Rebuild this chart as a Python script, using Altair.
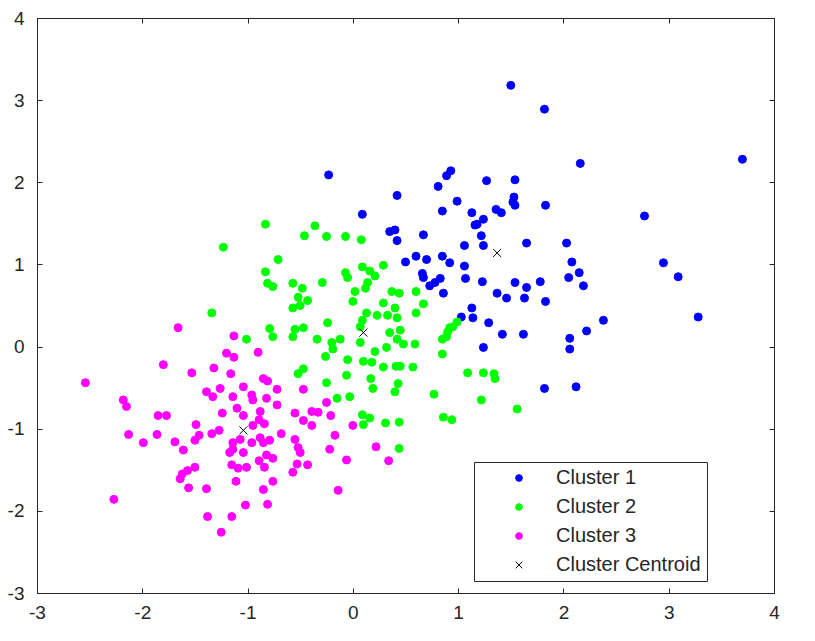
import altair as alt
import pandas as pd

# ---- data ----
c1_x = [1.50, 1.82, 2.16, 3.70, 0.93, 0.89, -0.23, 0.42, 0.09, 0.81,
        0.85, 0.99, 1.27, 1.54, 1.53, 1.52, 1.54, 1.36, 1.41, 1.13,
        1.18, 1.24, 1.16, 0.35, 0.40, 0.42, 0.67, 1.22, 1.24, 1.06,
        1.65, 0.50, 0.60, 0.70, 0.85, 0.92, 1.06, 0.66, 0.67, 0.73,
        0.78, 0.83, 0.86, 1.07, 1.23, 1.54, 1.65, 1.37, 1.46, 1.63,
        1.13, 1.14, 1.03, 1.29, 1.42, 1.62, 1.24, 1.83, 2.77, 2.03,
        2.08, 2.95, 2.15, 2.05, 2.19, 3.09, 3.28, 1.78, 1.83, 2.38,
        2.22, 2.06, 2.06, 1.82, 2.12]
c1_y = [3.18, 2.89, 2.23, 2.28, 2.14, 2.08, 2.09, 1.84, 1.61, 1.95,
        1.65, 1.77, 2.02, 2.03, 1.82, 1.76, 1.72, 1.67, 1.63, 1.63,
        1.49, 1.55, 1.48, 1.40, 1.42, 1.29, 1.36, 1.35, 1.23, 1.23,
        1.26, 1.03, 1.10, 1.06, 1.10, 1.02, 0.98, 0.89, 0.84, 0.74,
        0.78, 0.83, 0.65, 0.83, 0.79, 0.78, 0.72, 0.65, 0.59, 0.59,
        0.47, 0.35, 0.36, 0.29, 0.15, 0.15, -0.01, 1.72, 1.59, 1.26,
        1.03, 1.02, 0.90, 0.84, 0.74, 0.85, 0.36, 0.79, 0.55, 0.32,
        0.19, 0.10, -0.03, -0.51, -0.49]

c2_x = [-0.83, -1.23, -0.71, -0.83, -0.81, -0.76, -1.34, -0.79, -0.76, -1.01,
        -0.57,
        -0.36, -0.46, -0.25, -0.07, 0.08, 0.29, 0.09, 0.16, 0.21, -0.07,
        -0.05, -0.29, 0.14, 0.12, 0.02, 0.37, 0.44, 0.60, -0.57, -0.48,
        -0.52, -0.43, -0.57, -0.50, 0.00, 0.29, 0.40, 0.67, 0.60, 0.33,
        0.42, 0.23, 0.13, 0.09, 0.07, -0.24, -0.47, -0.55, 0.45, 0.35,
        0.90, 0.95, 0.99, 0.92,
        -0.34, -0.20, -0.12, -0.19, -0.26, 0.07, 0.21, 0.32, -0.05, 0.10,
        0.18, 0.29, 0.41, 0.45, 0.57, 0.42, 0.48, 0.59, 0.85, 0.89,
        0.85, -0.47, -0.52, -0.06, -0.25, 0.17, 0.19, 0.43, 0.40, -0.15,
        -0.03, 0.77, 1.09, 1.24, 1.34, 1.35, 1.22, 1.56, 0.09, 0.16,
        0.10, 0.31, 0.44, 0.86, 0.94, 0.44]
c2_y = [1.49, 1.21, 1.06, 0.91, 0.77, 0.73, 0.41, 0.22, 0.12, 0.09,
        0.12,
        1.47, 1.35, 1.34, 1.34, 1.30, 0.99, 0.97, 0.92, 0.86, 0.90,
        0.84, 0.78, 0.78, 0.71, 0.67, 0.67, 0.65, 0.67, 0.77, 0.71,
        0.60, 0.56, 0.47, 0.50, 0.55, 0.53, 0.47, 0.52, 0.41, 0.38,
        0.35, 0.38, 0.41, 0.32, 0.24, 0.29, 0.23, 0.21, 0.20, 0.17,
        0.18, 0.24, 0.30, 0.23,
        0.09, 0.05, 0.09, -0.03, -0.12, 0.05, -0.06, -0.01, -0.16, -0.18,
        -0.19, -0.25, -0.24, -0.24, -0.25, 0.09, 0.03, 0.03, 0.09, 0.12,
        -0.09, -0.27, -0.33, -0.35, -0.44, -0.39, -0.51, -0.45, -0.55, -0.63,
        -0.61, -0.58, -0.32, -0.32, -0.33, -0.39, -0.65, -0.76, -0.83, -0.87,
        -0.95, -0.93, -0.92, -0.86, -0.89, -1.24]

c3_x = [-1.66, -1.13, -1.20, -1.13, -0.90, -1.80, -1.53, -1.32, -1.16, -0.85,
        -0.81,
        -2.54, -2.18, -2.15, -1.85, -1.77, -2.13, -1.99, -1.86, -1.69, -1.61,
        -1.49, -1.46, -1.50, -1.34, -1.27, -1.24, -1.39, -1.33, -1.26, -1.04,
        -1.14, -0.96, -0.95, -0.72, -0.82, -0.72, -1.10, -1.04, -0.88, -0.89,
        -0.84, -0.95, -0.68, -1.14, -1.07, -0.96, -0.88, -0.79, -0.85, -1.17,
        -1.04, -1.14, -0.82, -0.76, -0.89, -0.84, -1.15, -1.09, -1.01, -1.50,
        -1.57, -1.62, -1.64, -1.56, -1.39, -1.11, -0.76, -0.85, -2.27, -1.02,
        -0.81, -1.38, -1.15, -1.25,
        -0.47, -0.25, -0.55, -0.47, -0.39, -0.33, -0.39, -0.21, 0.00, -0.55,
        -0.52, -0.50, -0.22, -0.17, 0.22, -0.06, 0.34, -0.43, -0.53, -0.57,
        -0.14]
c3_y = [0.23, 0.13, -0.08, -0.13, -0.07, -0.22, -0.32, -0.26, -0.33, -0.39,
        -0.42,
        -0.44, -0.65, -0.73, -0.84, -0.84, -1.07, -1.17, -1.07, -1.16, -1.26,
        -0.95, -1.08, -1.14, -1.06, -1.02, -0.81, -0.55, -0.61, -0.51, -0.49,
        -0.61, -0.59, -0.65, -0.52, -0.63, -0.71, -0.75, -0.84, -0.79, -0.89,
        -0.94, -0.96, -1.06, -1.17, -1.13, -1.17, -1.11, -1.14, -1.17, -1.29,
        -1.29, -1.25, -1.32, -1.36, -1.39, -1.47, -1.44, -1.48, -1.47, -1.47,
        -1.51, -1.55, -1.61, -1.72, -1.73, -1.64, -1.64, -1.74, -1.86, -1.93,
        -1.92, -2.07, -2.07, -2.26,
        -0.52, -0.68, -0.81, -0.90, -0.79, -0.80, -0.96, -0.84, -0.96, -1.13,
        -1.23, -1.29, -1.25, -1.08, -1.22, -1.38, -1.39, -1.44, -1.43, -1.53,
        -1.75]

cent_x = [1.37, 0.10, -1.04]
cent_y = [1.14, 0.17, -1.02]

labels = ["Cluster 1", "Cluster 2", "Cluster 3", "Cluster Centroid"]
stroke_colors = ["#0000ff", "#00ff00", "#ff00ff", "#000000"]
fill_colors = ["#0000ff", "#00ff00", "#ff00ff", "transparent"]
shapes = ["circle", "circle", "circle", "M-1,-1L1,1M-1,1L1,-1"]
tick_values = [-3, -2, -1, 0, 1, 2, 3, 4]

# ---- build table ----
rows = []
for lab, xs, ys in [(labels[0], c1_x, c1_y), (labels[1], c2_x, c2_y),
                    (labels[2], c3_x, c3_y), (labels[3], cent_x, cent_y)]:
    assert len(xs) == len(ys)
    for a, b in zip(xs, ys):
        rows.append({"x": a, "y": b, "group": lab})
df = pd.DataFrame(rows)
cent_df = pd.DataFrame({"x": cent_x, "y": cent_y})

TOP = 10
W, H = 737, 593 - 8 - TOP
FONT = "Liberation Sans"
TXT = "#262626"
FS = 19

xscale = alt.Scale(domain=[-3, 4], nice=False, zero=False)
yscale = alt.Scale(domain=[-3, 4], nice=False, zero=False)

common_axis = dict(values=tick_values, grid=False, domain=False, ticks=True,
                   tickSize=5, tickColor=TXT, tickWidth=1,
                   labelFont=FONT, labelFontSize=FS, labelColor=TXT,
                   labelFlush=False, labelOverlap=False,
                   labelExpr="toString(datum.value)")

points = alt.Chart(df).mark_point(filled=False, size=64, strokeWidth=1, opacity=1).encode(
    x=alt.X("x:Q", scale=xscale, title=None,
            axis=alt.Axis(orient="top", offset=-H, labels=True,
                          labelBaseline="top", labelPadding=-15, **common_axis)),
    y=alt.Y("y:Q", scale=yscale, title=None,
            axis=alt.Axis(orient="right", offset=-W, labels=True,
                          labelAlign="right", labelPadding=-18, **common_axis)),
    color=alt.Color("group:N", scale=alt.Scale(domain=labels, range=stroke_colors),
                    legend=alt.Legend(title=None, orient="none",
                                      legendX=474 - 37, legendY=462 - 8 - TOP,
                                      fillColor="white", strokeColor=TXT, padding=6,
                                      cornerRadius=0, labelFont=FONT, labelFontSize=20,
                                      labelColor=TXT, symbolSize=45, symbolStrokeWidth=1,
                                      rowPadding=9, symbolOffset=29, labelOffset=27)),
    fill=alt.Fill("group:N", scale=alt.Scale(domain=labels, range=fill_colors)),
    shape=alt.Shape("group:N", scale=alt.Scale(domain=labels, range=shapes)),
)

mirror = alt.Chart(cent_df).mark_point(opacity=0).encode(
    x=alt.X("x:Q", scale=xscale, title=None,
            axis=alt.Axis(orient="bottom", offset=-H, labels=False, **common_axis)),
    y=alt.Y("y:Q", scale=yscale, title=None,
            axis=alt.Axis(orient="left", offset=-W, labels=False, **common_axis)),
)

chart = alt.layer(points, mirror).properties(
    width=W, height=H,
    padding={"left": 29, "top": TOP, "right": 20, "bottom": 30},
    autosize=alt.AutoSizeParams(type="none"),
    background="white",
).configure_view(stroke=TXT, strokeWidth=1)

chart.save("out.html", embed_options={"renderer": "svg", "actions": False})
